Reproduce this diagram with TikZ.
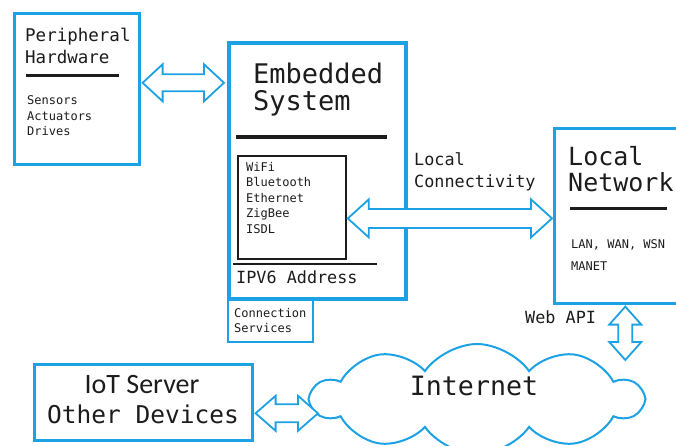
\documentclass[tikz,border=0pt]{standalone}
\usepackage{fontspec}
\setmainfont{DejaVu Sans Mono}
\newfontfamily\calfont{Carlito}
\usepackage{tikz}
\usetikzlibrary{calc,shapes.symbols}
\definecolor{iotblue}{RGB}{28,162,228}
\definecolor{ink}{RGB}{28,28,28}
\newcommand{\dblh}[5]{\draw[dblarrow] let \p1=#1, \p2=#2 in (\x1,\y1) -- (\x1+#5,\y1+#3) -- (\x1+#5,\y1+#4) -- (\x2-#5,\y1+#4) -- (\x2-#5,\y1+#3) -- (\x2,\y1) -- (\x2-#5,\y1-#3) -- (\x2-#5,\y1-#4) -- (\x1+#5,\y1-#4) -- (\x1+#5,\y1-#3) -- cycle;}
\newcommand{\dblv}[5]{\draw[dblarrow] let \p1=#1, \p2=#2 in (\x1,\y1) -- (\x1+#3,\y1-#5) -- (\x1+#4,\y1-#5) -- (\x1+#4,\y2+#5) -- (\x1+#3,\y2+#5) -- (\x1,\y2) -- (\x1-#3,\y2+#5) -- (\x1-#4,\y2+#5) -- (\x1-#4,\y1-#5) -- (\x1-#3,\y1-#5) -- cycle;}
\tikzset{
  bluebox/.style={draw=iotblue, line width=2.6pt, inner sep=0pt, anchor=north west},
  blackbox/.style={draw=ink, line width=1.8pt, inner sep=0pt, anchor=north west},
  dblarrow/.style={draw=iotblue, line width=1.8pt, fill=white, line join=miter},
  txt/.style={text=ink, inner sep=0pt, anchor=base west},
}

\begin{document}
\begin{tikzpicture}[x=1pt, y=-1pt]
		%%%%% START %%%%%
		\useasboundingbox (0,0) rectangle (676,446);
		\clip (0,0) rectangle (676,446);
		
		% peripheral hardware
		\node[bluebox, minimum width=125pt, minimum height=151pt] (periph) at (13,12) {};
		\node[txt, font=\fontsize{17.5}{18}\selectfont] (periphA) at (25,42) {Peripheral};
		\node[txt, font=\fontsize{17.5}{18}\selectfont] (periphB) at (25,64) {Hardware};
		\draw[ink, line width=3pt] (26,76) -- (119,76);
		\node[txt, font=\fontsize{12}{12}\selectfont] (sens) at (27,105) {Sensors};
		\node[txt, font=\fontsize{12}{12}\selectfont] (actu) at (27,121) {Actuators};
		\node[txt, font=\fontsize{12}{12}\selectfont] (driv) at (27,136) {Drives};
		
		% embedded system
		\node[bluebox, line width=3.6pt, minimum width=177pt, minimum height=256pt] (embed) at (227,41) {};
		\node[bluebox, line width=2.4pt, minimum width=85pt, minimum height=44pt] (conn) at (227,297) {};
		\node[txt, font=\fontsize{27}{27}\selectfont] (embA) at (253,84) {Embedded};
		\node[txt, font=\fontsize{27}{27}\selectfont] (embB) at (253,111) {System};
		\draw[ink, line width=4pt] (236,137) -- (387,137);
		\node[blackbox, minimum width=108pt, minimum height=103pt] (wireless) at (237,155) {};
		\node[txt, font=\fontsize{12}{12}\selectfont] (wifi) at (246,172) {WiFi};
		\node[txt, font=\fontsize{12}{12}\selectfont] (blue) at (246,187) {Bluetooth};
		\node[txt, font=\fontsize{12}{12}\selectfont] (ether) at (246,203) {Ethernet};
		\node[txt, font=\fontsize{12}{12}\selectfont] (zig) at (246,218) {ZigBee};
		\node[txt, font=\fontsize{12}{12}\selectfont] (isdl) at (246,233) {ISDL};
		\draw[ink, line width=2pt] (233,264) -- (377,264);
		\node[txt, font=\fontsize{16.8}{17}\selectfont] (ipv6) at (236,283) {IPV6 Address};
		\node[txt, font=\fontsize{12}{12}\selectfont] (connA) at (234,317) {Connection};
		\node[txt, font=\fontsize{12}{12}\selectfont] (connB) at (234,332) {Services};
		
		% local network
		\node[bluebox, minimum width=150pt, minimum height=175pt] (localnet) at (553,127) {};
		\node[txt, font=\fontsize{25}{25}\selectfont] (lnA) at (568,166) {Local};
		\node[txt, font=\fontsize{25}{25}\selectfont] (lnB) at (568,192) {Network};
		\draw[ink, line width=3pt] (570,208) -- (667,208);
		\node[txt, font=\fontsize{12}{12}\selectfont] (lans) at (571,248) {LAN, WAN, WSN};
		\node[txt, font=\fontsize{12}{12}\selectfont] (manet) at (571,270) {MANET};
		\node[txt, font=\fontsize{16.8}{17}\selectfont] (lcA) at (414,166) {Local};
		\node[txt, font=\fontsize{16.8}{17}\selectfont] (lcB) at (414,188) {Connectivity};
		\node[txt, font=\fontsize{16.8}{17}\selectfont] (webapi) at (525,323) {Web API};
		
		% internet
		\node[cloud, cloud puffs=10, cloud puff arc=110, aspect=3, draw=iotblue, line width=2pt, minimum width=330pt, minimum height=110pt] (internet) at (477,399) {};
		\node[text=ink, inner sep=0pt, anchor=base, font=\fontsize{26.6}{27}\selectfont] (inet) at (474,395) {Internet};
		
		% iot server
		\node[bluebox, minimum width=218pt, minimum height=76pt] (iot) at (33,363) {};
		\node[text=ink, inner sep=0pt, anchor=base, font=\calfont\fontsize{28}{28}\selectfont] (iotA) at (142,393) {IoT Server};
		\node[text=ink, inner sep=0pt, anchor=base, font=\fontsize{24.5}{25}\selectfont] (iotB) at (143,423) {Other Devices};
		
		% arrows
		\coordinate (pa1) at ($(periph.east)+(2,-6)$);
		\coordinate (pa2) at ($(embed.west |- pa1)+(-3,0)$);
		\dblh{(pa1)}{(pa2)}{18.5pt}{8.5pt}{20pt}
		\coordinate (lc1) at ($(wireless.east)+(1,11)$);
		\coordinate (lc2) at ($(localnet.west |- lc1)+(-1,0)$);
		\dblh{(lc1)}{(lc2)}{19pt}{9.5pt}{21pt}
		\coordinate (io1) at ($(iot.east)+(2,11)$);
		\coordinate (io2) at (318,412);
		\dblh{(io1)}{(io2)}{17.5pt}{9pt}{20pt}
		\coordinate (wa1) at ($(localnet.south)+(-4,2)$);
		\coordinate (wa2) at (622,360);
		\dblv{(wa1)}{(wa2)}{16pt}{7pt}{18pt}
		%%%%% END %%%%%
\end{tikzpicture}
\end{document}
